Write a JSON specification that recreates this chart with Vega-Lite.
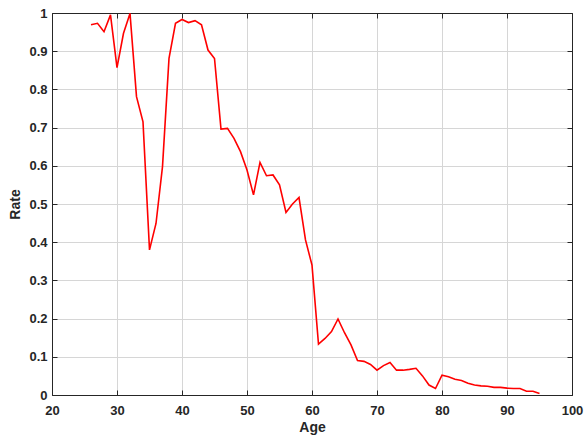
{
  "$schema": "https://vega.github.io/schema/vega-lite/v6.json",
  "autosize": "none",
  "width": 520,
  "height": 382,
  "padding": {"left": 52, "top": 13, "right": 14, "bottom": 46},
  "background": "white",
  "config": {
    "font": "Liberation Sans",
    "view": {"stroke": "#262626", "strokeWidth": 1},
    "axis": {
      "labelFont": "Liberation Sans",
      "labelFontWeight": "bold",
      "labelFontSize": 13,
      "labelColor": "#262626",
      "titleFont": "Liberation Sans",
      "titleFontWeight": "bold",
      "titleFontSize": 14,
      "titleColor": "#262626",
      "domainColor": "#262626",
      "tickColor": "#262626",
      "tickSize": -5,
      "gridColor": "#d6d6d6",
      "gridWidth": 1
    }
  },
  "data": {
    "values": [
      {"age": 26, "rate": 0.969}, {"age": 27, "rate": 0.973}, {"age": 28, "rate": 0.951},
      {"age": 29, "rate": 0.995}, {"age": 30, "rate": 0.857}, {"age": 31, "rate": 0.947},
      {"age": 32, "rate": 0.999}, {"age": 33, "rate": 0.781}, {"age": 34, "rate": 0.715},
      {"age": 35, "rate": 0.380}, {"age": 36, "rate": 0.449}, {"age": 37, "rate": 0.598},
      {"age": 38, "rate": 0.881}, {"age": 39, "rate": 0.973}, {"age": 40, "rate": 0.983},
      {"age": 41, "rate": 0.975}, {"age": 42, "rate": 0.980}, {"age": 43, "rate": 0.969},
      {"age": 44, "rate": 0.903}, {"age": 45, "rate": 0.881}, {"age": 46, "rate": 0.696},
      {"age": 47, "rate": 0.698}, {"age": 48, "rate": 0.672}, {"age": 49, "rate": 0.637},
      {"age": 50, "rate": 0.589}, {"age": 51, "rate": 0.524}, {"age": 52, "rate": 0.609},
      {"age": 53, "rate": 0.574}, {"age": 54, "rate": 0.576}, {"age": 55, "rate": 0.550},
      {"age": 56, "rate": 0.478}, {"age": 57, "rate": 0.500}, {"age": 58, "rate": 0.517},
      {"age": 59, "rate": 0.406}, {"age": 60, "rate": 0.340}, {"age": 61, "rate": 0.133},
      {"age": 62, "rate": 0.148}, {"age": 63, "rate": 0.166}, {"age": 64, "rate": 0.199},
      {"age": 65, "rate": 0.163}, {"age": 66, "rate": 0.131}, {"age": 67, "rate": 0.090},
      {"age": 68, "rate": 0.088}, {"age": 69, "rate": 0.080}, {"age": 70, "rate": 0.065},
      {"age": 71, "rate": 0.077}, {"age": 72, "rate": 0.085}, {"age": 73, "rate": 0.065},
      {"age": 74, "rate": 0.065}, {"age": 75, "rate": 0.067}, {"age": 76, "rate": 0.070},
      {"age": 77, "rate": 0.050}, {"age": 78, "rate": 0.026}, {"age": 79, "rate": 0.017},
      {"age": 80, "rate": 0.052}, {"age": 81, "rate": 0.048}, {"age": 82, "rate": 0.041},
      {"age": 83, "rate": 0.038}, {"age": 84, "rate": 0.031}, {"age": 85, "rate": 0.026},
      {"age": 86, "rate": 0.024}, {"age": 87, "rate": 0.023}, {"age": 88, "rate": 0.020},
      {"age": 89, "rate": 0.020}, {"age": 90, "rate": 0.018}, {"age": 91, "rate": 0.017},
      {"age": 92, "rate": 0.017}, {"age": 93, "rate": 0.010}, {"age": 94, "rate": 0.010},
      {"age": 95, "rate": 0.004}
    ]
  },
  "layer": [
    {
      "mark": {"type": "line", "strokeOpacity": 0},
      "encoding": {
        "x": {
          "field": "age", "type": "quantitative",
          "scale": {"domain": [20, 100], "nice": false, "zero": false},
          "axis": {"orient": "top", "labels": false, "title": null, "grid": false, "domain": true, "values": [20, 30, 40, 50, 60, 70, 80, 90, 100]}
        },
        "y": {
          "field": "rate", "type": "quantitative",
          "scale": {"domain": [0, 1], "nice": false},
          "axis": {"orient": "right", "labels": false, "title": null, "grid": false, "domain": true, "values": [0, 0.1, 0.2, 0.3, 0.4, 0.5, 0.6, 0.7, 0.8, 0.9, 1]}
        }
      }
    },
    {
      "mark": {"type": "line", "color": "#ff0000", "strokeWidth": 1.6},
      "encoding": {
        "x": {
          "field": "age", "type": "quantitative",
          "scale": {"domain": [20, 100], "nice": false, "zero": false},
          "axis": {"orient": "bottom", "title": "Age", "grid": true, "titlePadding": 3, "labelPadding": 14, "values": [20, 30, 40, 50, 60, 70, 80, 90, 100], "labelFlush": false}
        },
        "y": {
          "field": "rate", "type": "quantitative",
          "scale": {"domain": [0, 1], "nice": false},
          "axis": {"orient": "left", "title": "Rate", "grid": true, "titlePadding": 6, "labelPadding": 10, "format": "~g", "values": [0, 0.1, 0.2, 0.3, 0.4, 0.5, 0.6, 0.7, 0.8, 0.9, 1], "labelFlush": false}
        }
      }
    }
  ],
  "resolve": {"axis": {"x": "independent", "y": "independent"}}
}
